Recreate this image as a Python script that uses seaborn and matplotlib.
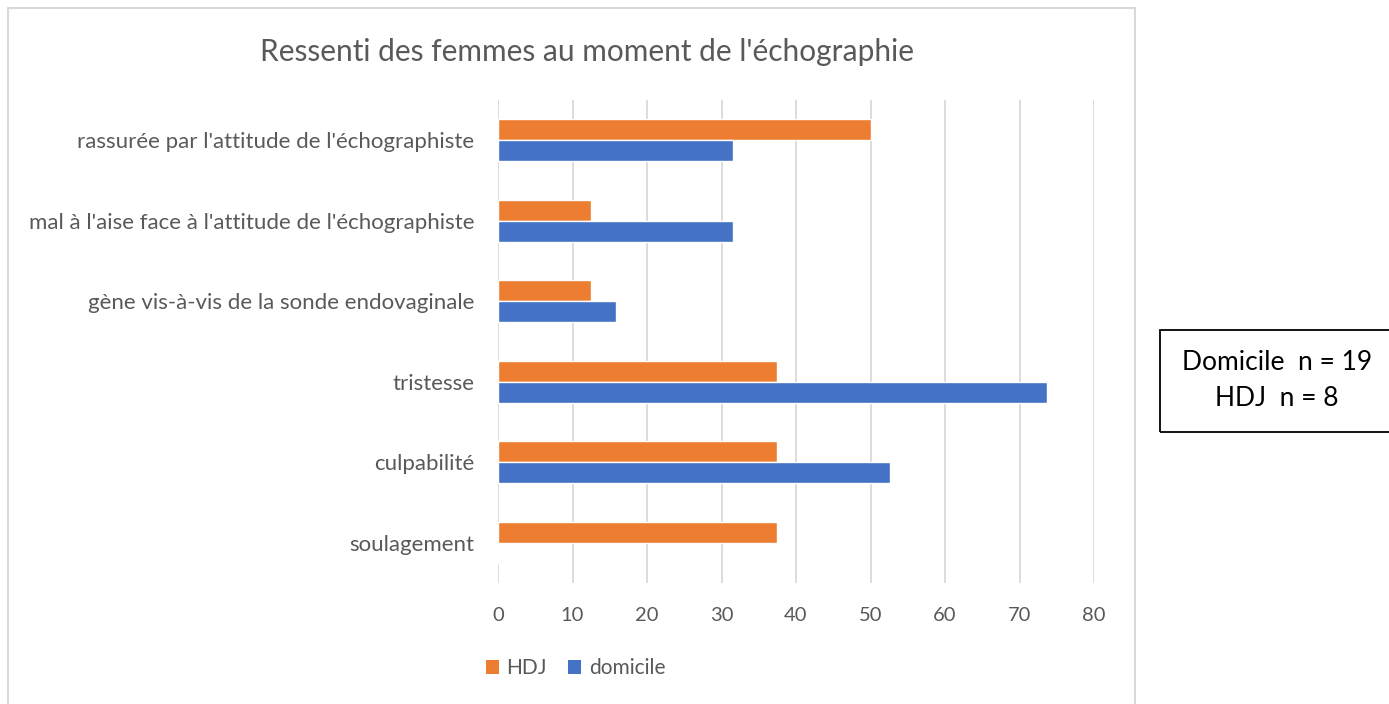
import pandas as pd
import matplotlib.pyplot as plt
import seaborn as sns
from matplotlib.patches import Rectangle, Patch

# data (percent)
categories = ["rassurée par l'attitude de l'échographiste",
              "mal à l'aise face à l'attitude de l'échographiste",
              "gène vis-à-vis de la sonde endovaginale",
              "tristesse",
              "culpabilité",
              "soulagement"]
hdj = [50, 12.5, 12.5, 37.5, 37.5, 37.5]
domicile = [31.6, 31.6, 15.8, 73.7, 52.6, 0]
series = ["HDJ", "domicile"]
colors = {"HDJ": "#ED7D31", "domicile": "#4472C4"}
xticks = [0, 10, 20, 30, 40, 50, 60, 70, 80]

df = pd.DataFrame({"categorie": categories * 2,
                   "valeur": hdj + domicile,
                   "serie": ["HDJ"] * len(categories) + ["domicile"] * len(categories)})

sns.set_style("white")
plt.rcParams['font.family'] = ['Lato', 'DejaVu Sans']

fig = plt.figure(figsize=(13.89, 7.04), dpi=100)
ax = fig.add_axes([498/1389, 1 - 583/704, (1094-498)/1389, (583-100)/704])

sns.barplot(data=df, y="categorie", x="valeur", hue="serie", order=categories,
            hue_order=series, palette=colors, width=0.52, orient="h",
            saturation=1, ax=ax, legend=False)

ax.set_xlim(0, 80)
ax.set_ylim(5.5, -0.5)
ax.set_xticks(xticks)
ax.set_xlabel("")
ax.set_ylabel("")
ax.grid(axis="x", color="#d9d9d9", lw=1.3)
ax.set_axisbelow(True)
for s in ax.spines.values():
    s.set_visible(False)
ax.tick_params(axis="x", length=0, pad=17, labelsize=14.5, labelcolor="#595959")
ax.tick_params(axis="y", length=0, pad=17, labelsize=16, labelcolor="#595959")

# chart title
fig.text(587/1389, 1 - 52/704, "Ressenti des femmes au moment de l'échographie",
         ha="center", va="center", fontsize=21.5, color="#595959")

# legend
handles = [Patch(facecolor=colors[s], edgecolor="none") for s in series]
fig.legend(handles, series, loc="center left", bbox_to_anchor=(467/1389, 1 - 668/704),
           ncol=2, frameon=False, fontsize=15, labelcolor="#595959",
           handlelength=0.65, handleheight=0.65, handletextpad=0.35, columnspacing=1.0)

# outer chart frame
fig.add_artist(Rectangle((8/1389, -0.05), (1135-8)/1389, 1.05 - 8/704,
                         transform=fig.transFigure, fill=False,
                         edgecolor="#d9d9d9", lw=1.5))

# sample size box
fig.add_artist(Rectangle((1160/1389, 1 - 432/704), 0.2, (432-330)/704,
                         transform=fig.transFigure, fill=False,
                         edgecolor="black", lw=1.3))
fig.text(1277/1389, 1 - 362/704, "Domicile  n = 19", ha="center", va="center",
         fontsize=19, color="black")
fig.text(1277/1389, 1 - 398/704, "HDJ  n = 8", ha="center", va="center",
         fontsize=19, color="black")

fig.savefig("out.png", dpi=100)
